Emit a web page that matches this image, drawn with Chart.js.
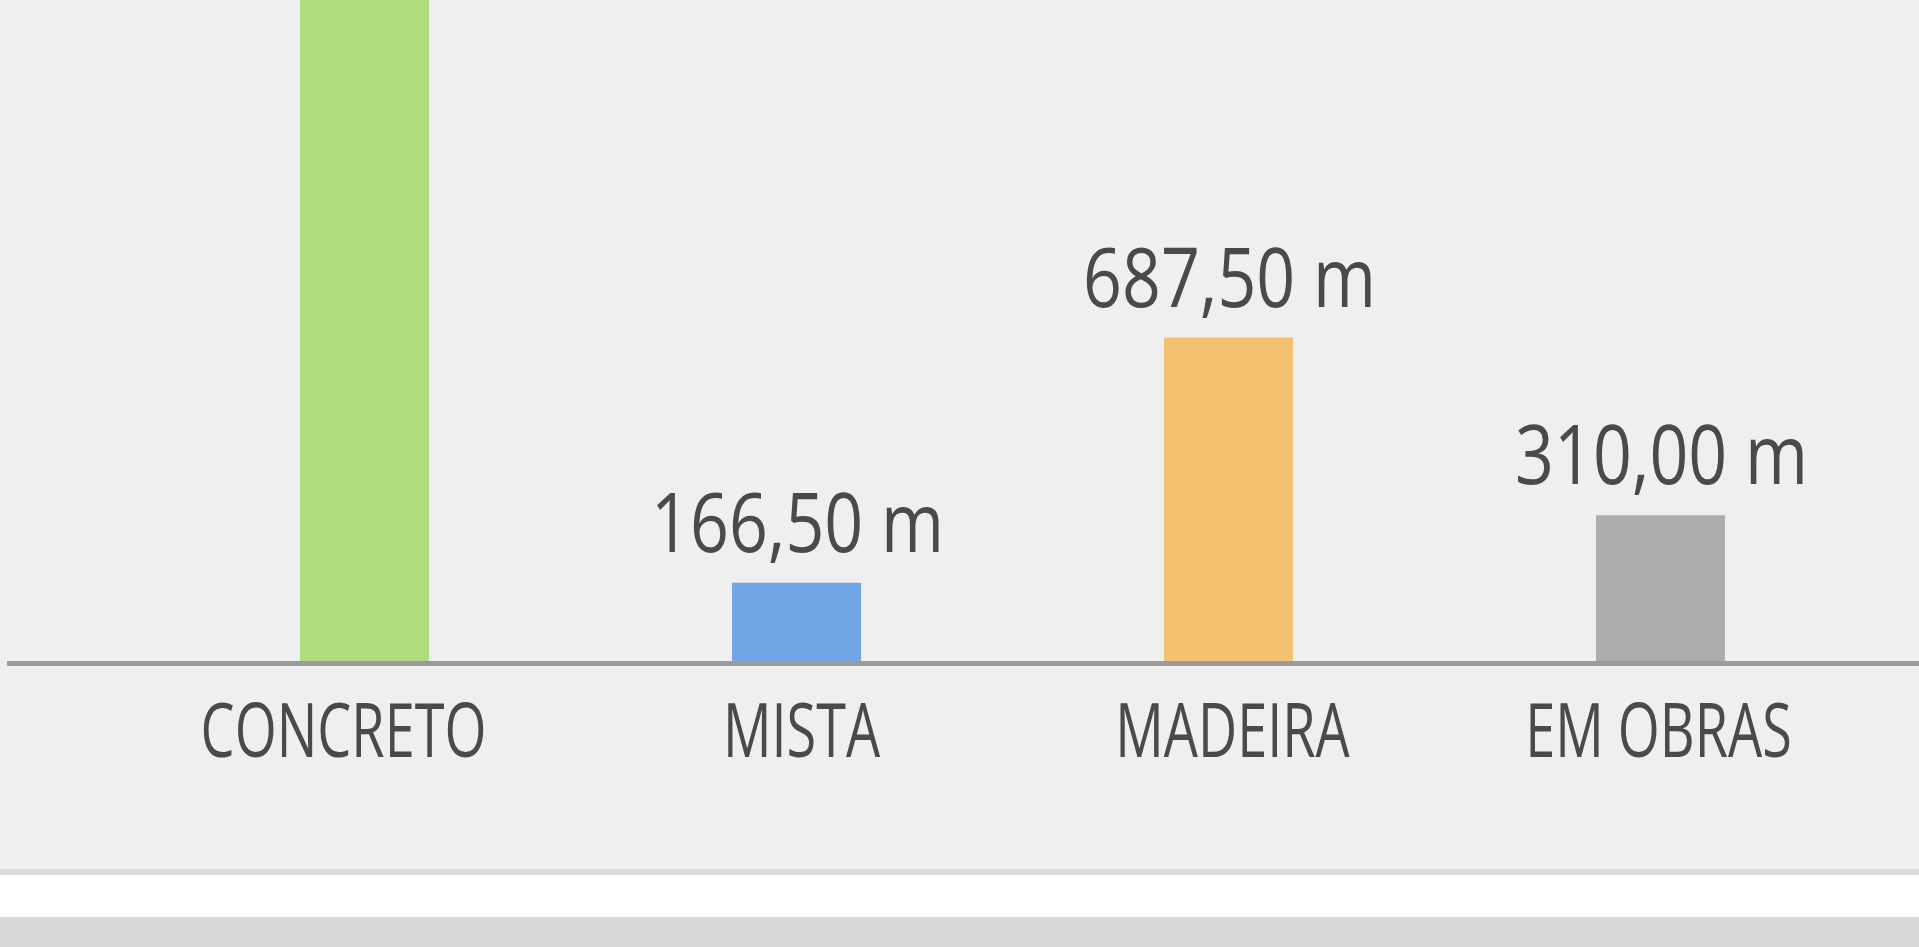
<!DOCTYPE html>
<html lang="pt-BR">
<head>
<meta charset="utf-8">
<title>Extensão por tipo</title>
<script src="https://cdn.jsdelivr.net/npm/chart.js@4.4.1/dist/chart.umd.min.js"></script>
<style>
  html, body { margin: 0; padding: 0; overflow: hidden; background: #d8d8d8; }
  #wrap { position: relative; width: 1919px; height: 869px; background: #efefef; }
  .rule { height: 6px; background: #dadada; }
  .band { height: 42px; background: #ffffff; }
  .foot { height: 30px; background: #d8d8d8; }
</style>
</head>
<body>
<div id="wrap"><canvas id="chart-bar"></canvas></div>
<div class="rule"></div>
<div class="band"></div>
<div class="foot"></div>

<script>
// data
const categories = ['CONCRETO', 'MISTA', 'MADEIRA', 'EM OBRAS'];
const lengths = [1540.00, 166.50, 687.50, 310.00];   // metres (concreto is cut off in the picture)
const barColors = ['#afdc7e', '#71a6e6', '#f3c170', '#adadad'];
const yMax = 1405;

const TEXT = '#4a4a4a';
const FONT = '"Open Sans", "Noto Sans", sans-serif';
// the category captions in the original are not quite centred under their bars
const captionNudge = [-21, 5, 4, -2];

function fmtMetres(v) {
  return v.toFixed(2).replace('.', ',') + ' m';
}

// draws text squeezed horizontally (the original uses a condensed face)
function squeezedText(ctx, txt, x, y, size, squeeze) {
  ctx.save();
  ctx.font = `400 ${size}px ${FONT}`;
  ctx.fillStyle = TEXT;
  ctx.textAlign = 'center';
  ctx.textBaseline = 'alphabetic';
  ctx.translate(x, y);
  ctx.scale(squeeze, 1);
  ctx.fillText(txt, 0, 0);
  ctx.restore();
}

const labelsPlugin = {
  id: 'labels',
  afterDatasetsDraw(chart) {
    const ctx = chart.ctx;
    const meta = chart.getDatasetMeta(0);
    const base = chart.scales.y.getPixelForValue(0);

    // base line, runs past the plot area on both sides
    ctx.save();
    ctx.strokeStyle = '#9b9b9b';
    ctx.lineWidth = 5;
    ctx.beginPath();
    ctx.moveTo(7, base + 2.5);
    ctx.lineTo(chart.width, base + 2.5);
    ctx.stroke();
    ctx.restore();

    meta.data.forEach((bar, i) => {
      squeezedText(ctx, fmtMetres(lengths[i]), bar.x + 1, bar.y - 31, 82, 0.83);
      squeezedText(ctx, categories[i], bar.x + captionNudge[i], base + 96, 75, 0.72);
    });
  }
};

function renderChart() {
  const ctx = document.getElementById('chart-bar');
  new Chart(ctx, {
    type: 'bar',
    data: {
      labels: categories,
      datasets: [{
        data: lengths,
        backgroundColor: barColors,
        borderWidth: 0,
        barPercentage: 0.2986,
        categoryPercentage: 1
      }]
    },
    options: {
      responsive: true, maintainAspectRatio: false,
      animation: false,
      layout: { padding: { left: 148.5, right: 42.5, top: 0, bottom: 208 } },
      plugins: { legend: { display: false }, tooltip: { enabled: false } },
      scales: {
        x: { display: false, offset: true, grid: { display: false } },
        y: { display: false, min: 0, max: yMax, grid: { display: false } }
      }
    },
    plugins: [labelsPlugin]
  });
}

document.addEventListener('DOMContentLoaded', renderChart);
</script>
</body>
</html>
